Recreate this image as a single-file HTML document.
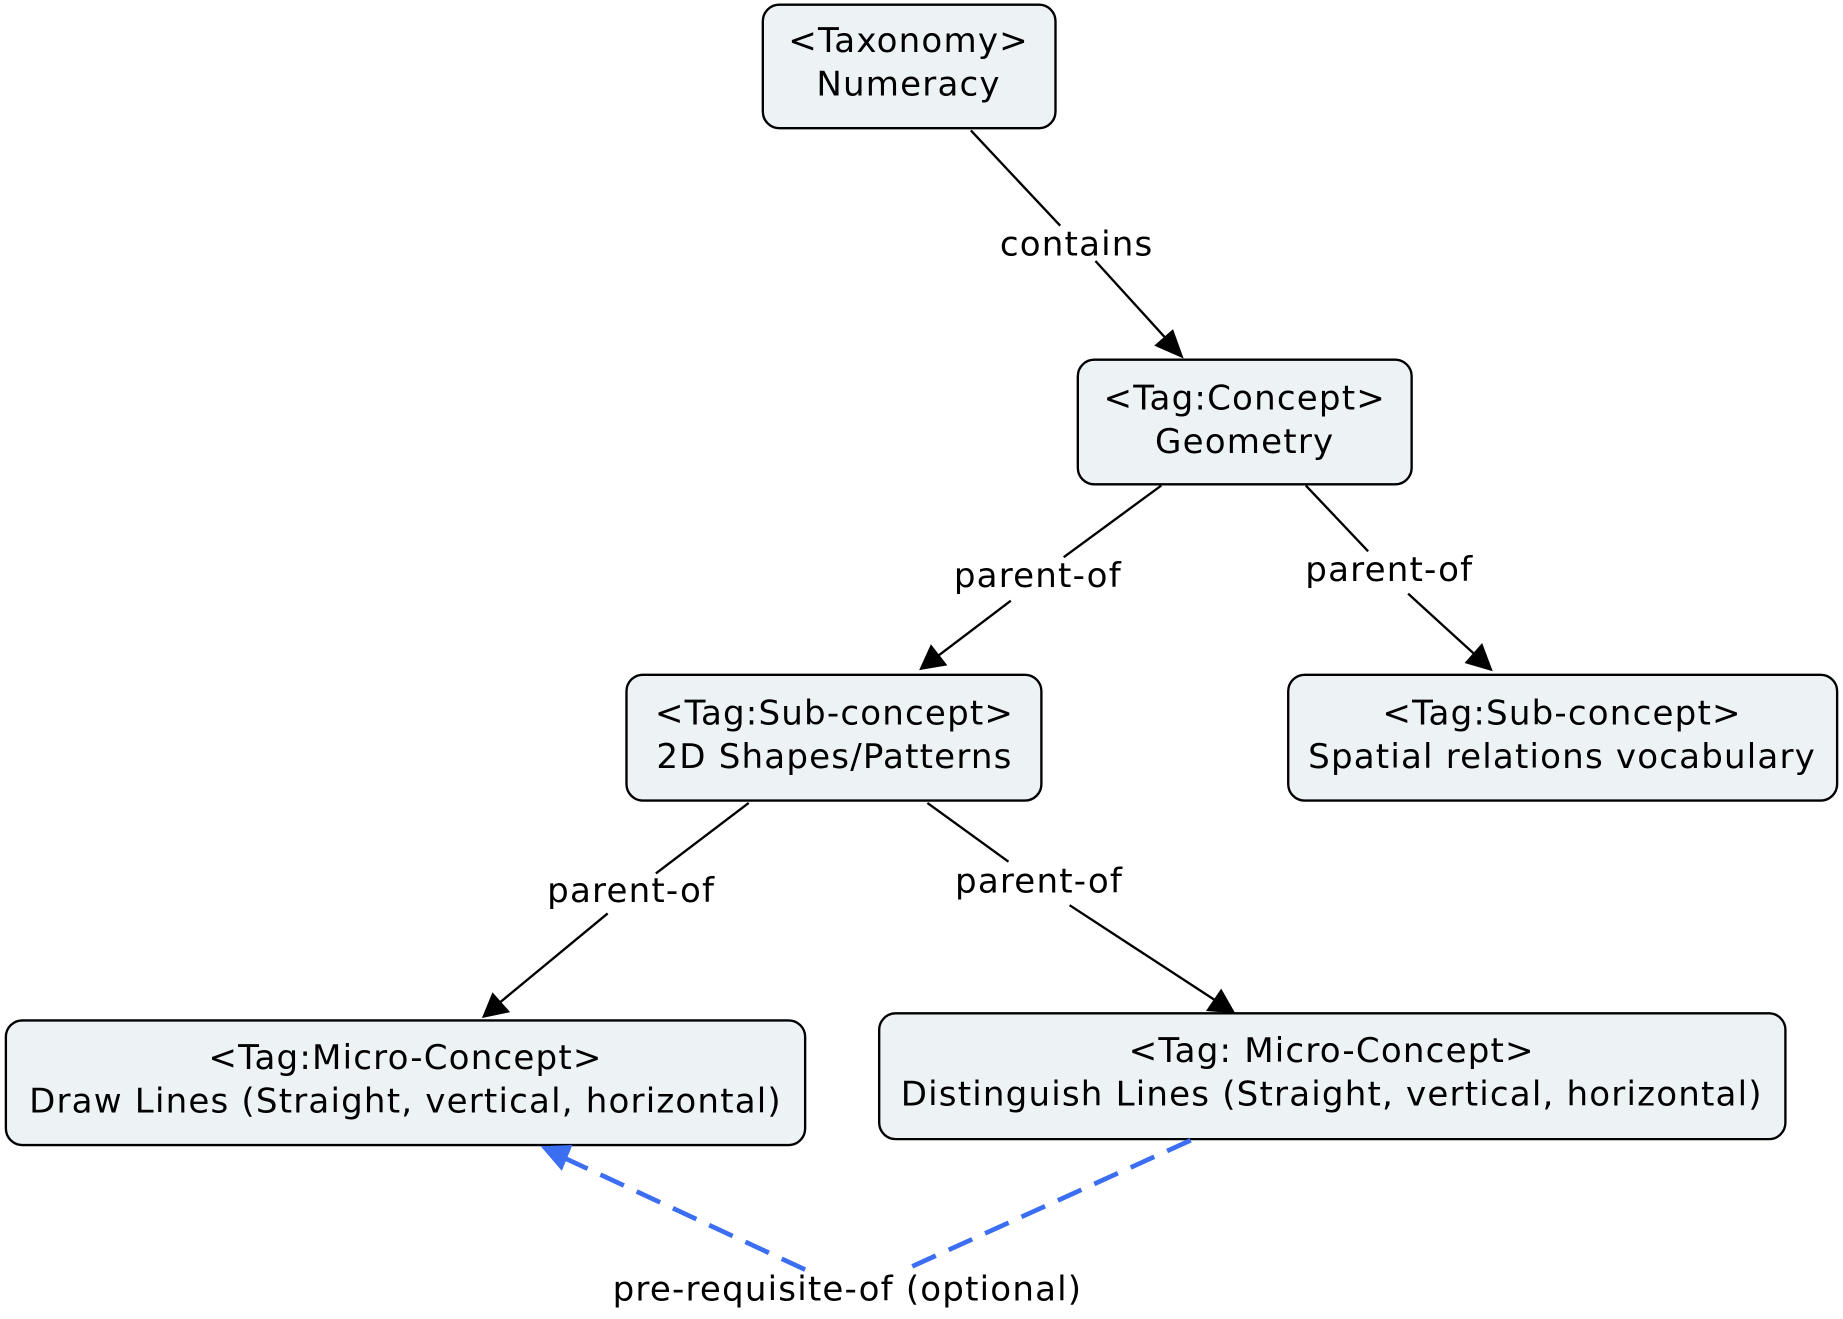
<!DOCTYPE html>
<html><head><meta charset="utf-8"><style>
html,body{margin:0;padding:0;background:#fff;}
svg{display:block;}
text{font-family:"DejaVu Sans",sans-serif;font-size:29px;letter-spacing:1px;fill:#000;text-anchor:middle;dominant-baseline:central;}
.b{fill:#edf3f5;stroke:#000;stroke-width:2;}
.l{stroke:#000;stroke-width:2;fill:none;}
</style></head><body>
<svg width="1843" height="1319" viewBox="0 0 1568 1122" preserveAspectRatio="none">
<rect class="b" x="649" y="4" width="249" height="105" rx="14"/>
<text x="773" y="35">&lt;Taxonomy&gt;</text><text x="773" y="72">Numeracy</text>
<rect class="b" x="917" y="306" width="284" height="106" rx="14"/>
<text x="1059" y="339">&lt;Tag:Concept&gt;</text><text x="1059" y="376">Geometry</text>
<rect class="b" x="533" y="574" width="353" height="107" rx="14"/>
<text x="710" y="607">&lt;Tag:Sub-concept&gt;</text><text x="710" y="644">2D Shapes/Patterns</text>
<rect class="b" x="1096" y="574" width="467" height="107" rx="14"/>
<text x="1329" y="607">&lt;Tag:Sub-concept&gt;</text><text x="1329" y="644">Spatial relations vocabulary</text>
<rect class="b" x="5" y="868" width="680" height="106" rx="14"/>
<text x="345" y="900">&lt;Tag:Micro-Concept&gt;</text><text x="345" y="937">Draw Lines (Straight, vertical, horizontal)</text>
<rect class="b" x="748" y="862" width="771" height="107" rx="14"/>
<text x="1133" y="894">&lt;Tag: Micro-Concept&gt;</text><text x="1133" y="931">Distinguish Lines (Straight, vertical, horizontal)</text>

<path class="l" d="M826,111 L902,192"/>
<path d="M932,222 L992,288" class="l"/><path d="M1007,305 L982,294 L998,280z" fill="#000"/>
<text x="916" y="208">contains</text>

<path class="l" d="M988,413 L905,474"/><path class="l" d="M860,511 L798,558"/><path d="M782,570 L792,548 L806,566z" fill="#000"/>
<text x="883" y="490">parent-of</text>

<path class="l" d="M1111,413 L1164,469"/><path class="l" d="M1198,505 L1255,557"/><path d="M1270,571 L1246,564 L1261,547z" fill="#000"/>
<text x="1182" y="485">parent-of</text>

<path class="l" d="M637,683 L558,743"/><path class="l" d="M517,777 L425,853"/><path d="M410,866 L419,844 L434,861z" fill="#000"/>
<text x="537" y="758">parent-of</text>

<path class="l" d="M789,683 L858,733"/><path class="l" d="M910,770 L1034,851"/><path d="M1051,862 L1026,860 L1039,841z" fill="#000"/>
<text x="884" y="750">parent-of</text>

<path d="M1013,970 L770,1080" stroke="#3b6ef0" stroke-width="4" stroke-dasharray="22,12" fill="none"/>
<path d="M685,1080 L478,984" stroke="#3b6ef0" stroke-width="4" stroke-dasharray="22,12" fill="none"/>
<path d="M460,975 L487,974 L478,996z" fill="#3b6ef0"/>
<text x="721" y="1097">pre-requisite-of (optional)</text>
</svg>
</body></html>
